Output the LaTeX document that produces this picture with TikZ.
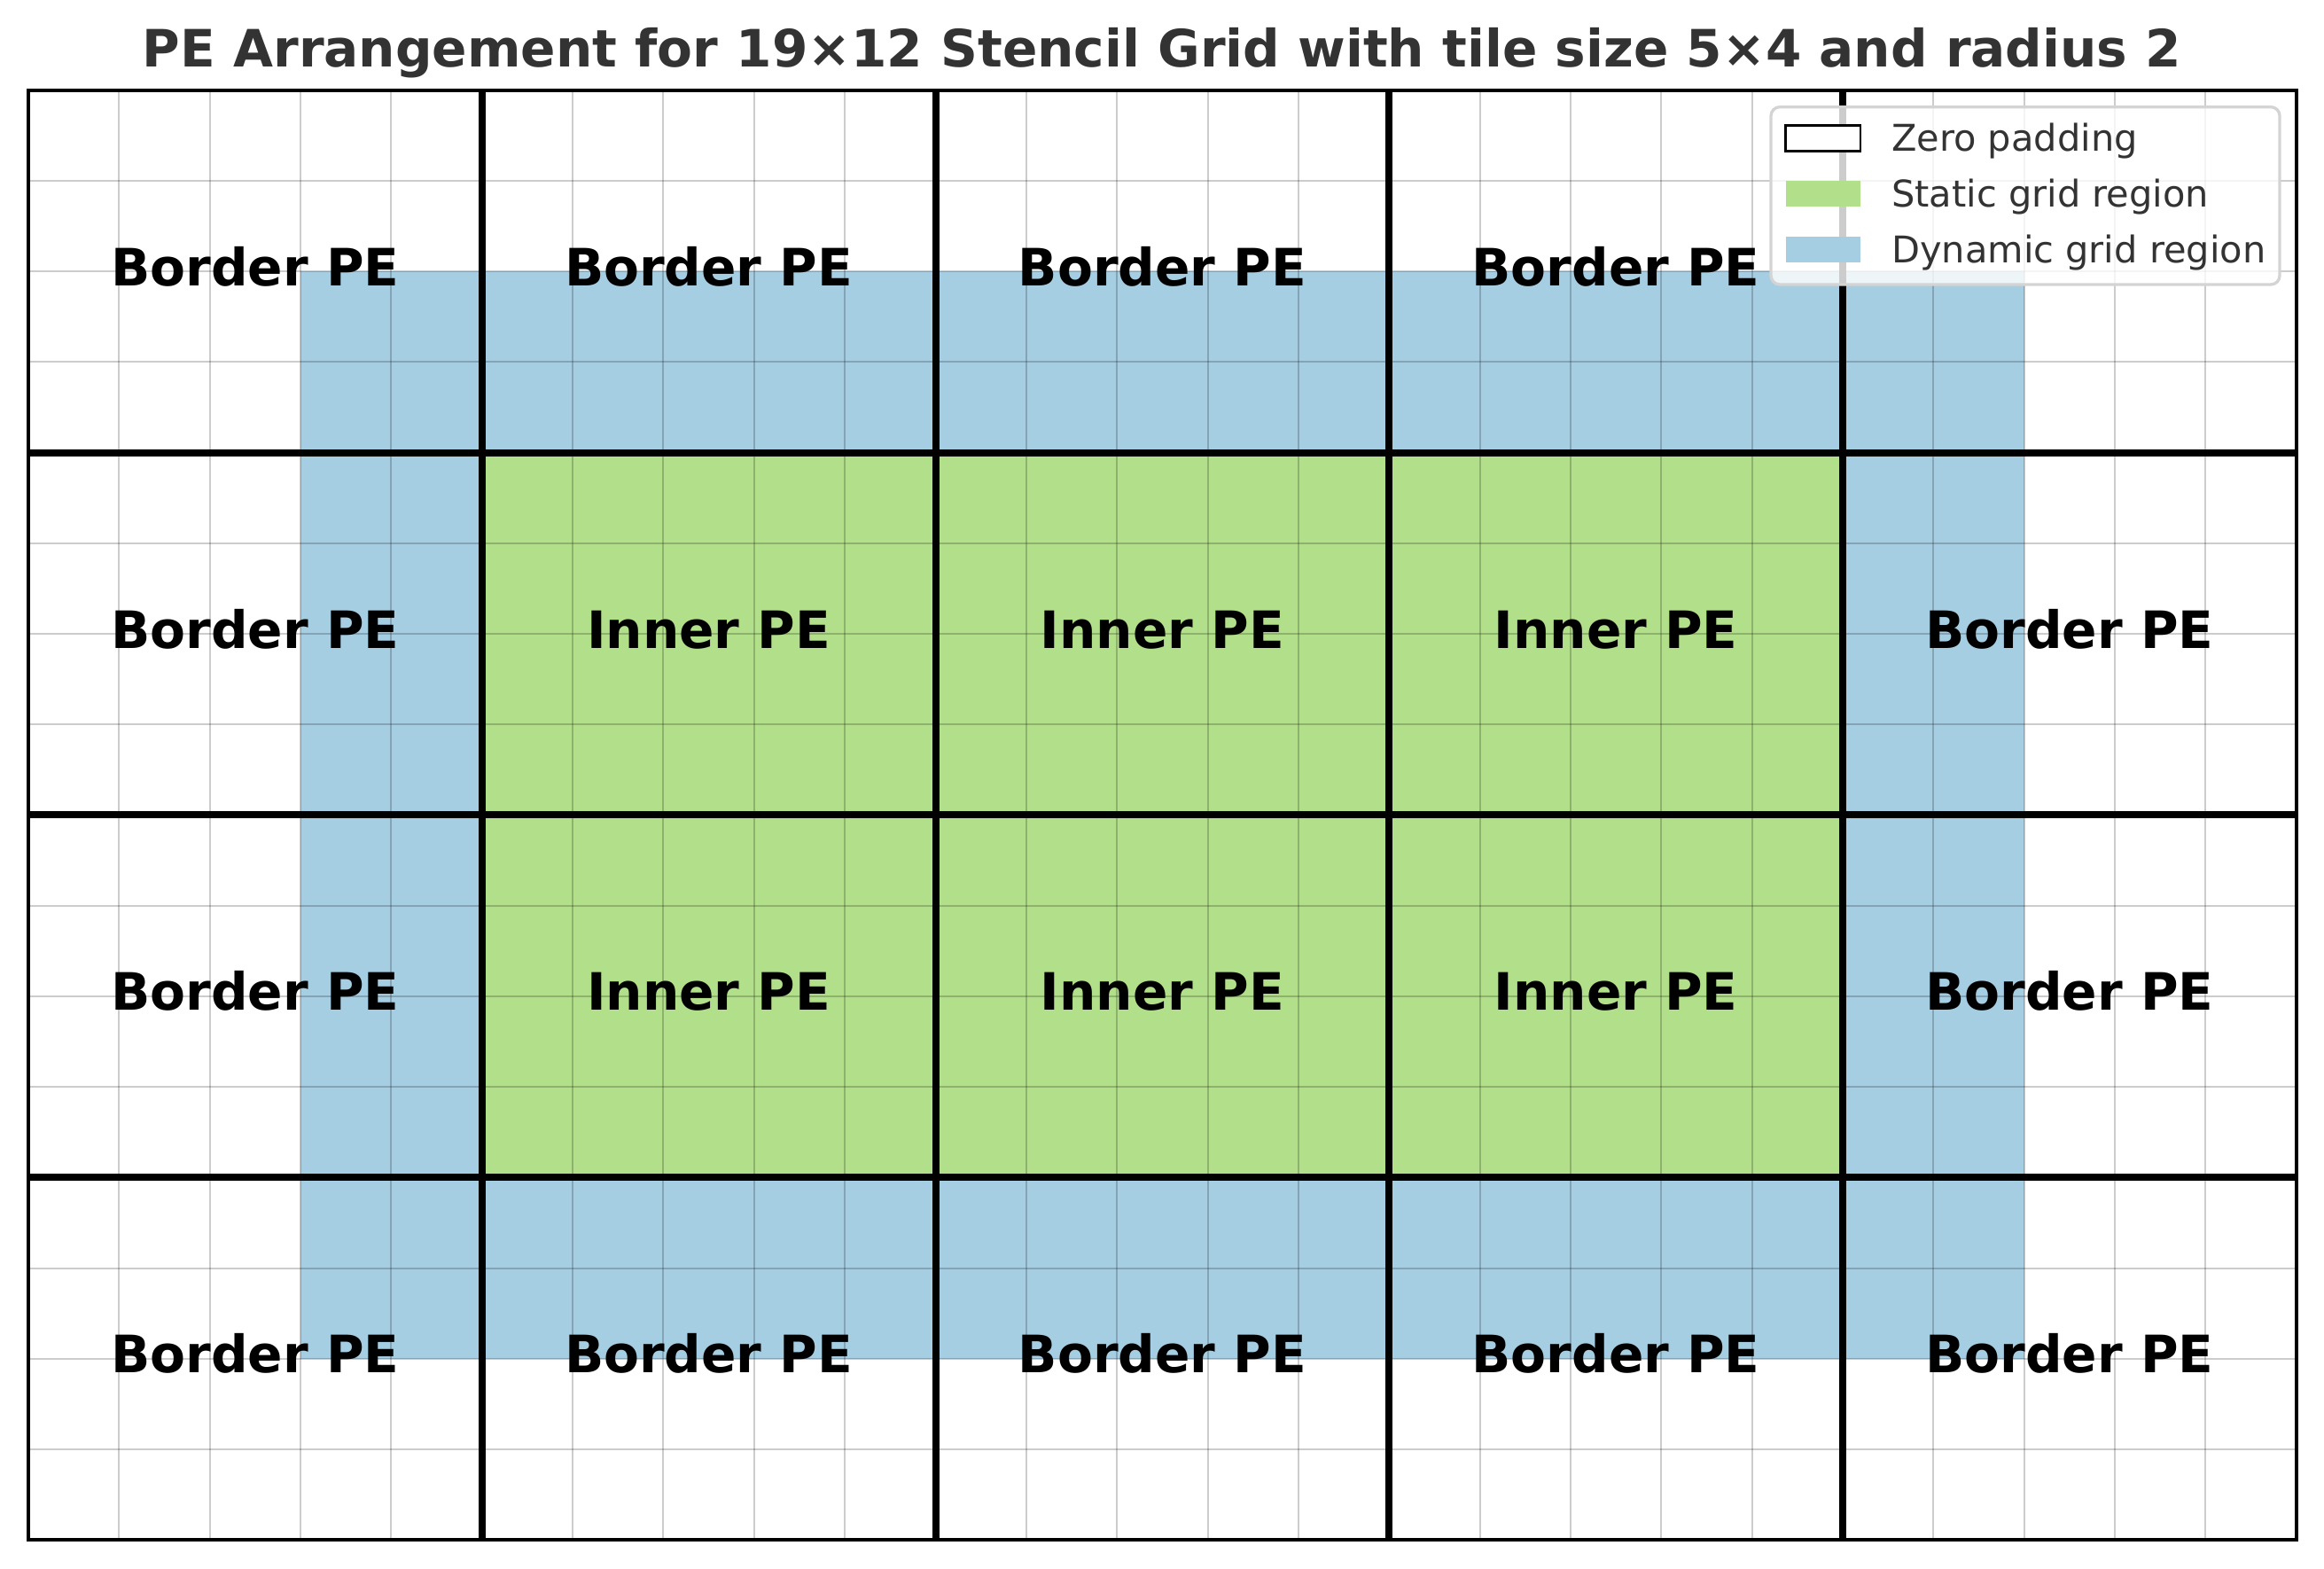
\documentclass[tikz,border=0pt]{standalone}
\usepackage{fontspec}
\setmainfont{DejaVu Sans}
\definecolor{dynblue}{HTML}{A6CEE3}
\definecolor{statgreen}{HTML}{B2DF8A}
\definecolor{titlegray}{HTML}{333333}
\definecolor{legframe}{HTML}{D4D4D4}
\begin{document}
\begin{tikzpicture}[x={(24.656pt,0)}, y={(0,-24.625pt)},
  minorgrid/.style={line width=0.5pt, draw=black, draw opacity=0.2},
  tileline/.style={line width=1.93pt, draw=black},
  frameline/.style={line width=0.96pt, draw=black},
  pelabel/.style={font=\fontsize{14}{16}\selectfont\bfseries, text=black, anchor=base, inner sep=0pt},
  legtext/.style={font=\fontsize{10}{12}\selectfont, text=titlegray, anchor=base west, inner sep=0pt},
  titletext/.style={font=\fontsize{14}{17}\selectfont\bfseries, text=titlegray, anchor=base, inner sep=0pt}]
\useasboundingbox (-0.31265,-0.99491) rectangle (25.3053,16.3207);
\fill[white] (-0.31265,-0.99491) rectangle (25.3053,16.3207);
% regions
\fill[dynblue] (3,2) rectangle (22,14);
\fill[statgreen] (5,4) rectangle (20,12);
% fine grid
\foreach \i in {1,...,24} \draw[minorgrid] (\i,0) -- (\i,16);
\foreach \j in {1,...,15} \draw[minorgrid] (0,\j) -- (25,\j);
% tile lines
\foreach \i in {5,10,15,20} \draw[tileline] (\i,0) -- (\i,16);
\foreach \j in {4,8,12} \draw[tileline] (0,\j) -- (25,\j);
\draw[frameline] (0,0) rectangle (25,16);
% labels row 0
\node[pelabel] (b00) at (2.5,2.157) {Border PE};
\node[pelabel] (b01) at (7.5,2.157) {Border PE};
\node[pelabel] (b02) at (12.5,2.157) {Border PE};
\node[pelabel] (b03) at (17.5,2.157) {Border PE};
% row 1
\node[pelabel] (b10) at (2.5,6.157) {Border PE};
\node[pelabel] (i11) at (7.5,6.157) {Inner PE};
\node[pelabel] (i12) at (12.5,6.157) {Inner PE};
\node[pelabel] (i13) at (17.5,6.157) {Inner PE};
\node[pelabel] (b14) at (22.5,6.157) {Border PE};
% row 2
\node[pelabel] (b20) at (2.5,10.157) {Border PE};
\node[pelabel] (i21) at (7.5,10.157) {Inner PE};
\node[pelabel] (i22) at (12.5,10.157) {Inner PE};
\node[pelabel] (i23) at (17.5,10.157) {Inner PE};
\node[pelabel] (b24) at (22.5,10.157) {Border PE};
% row 3
\node[pelabel] (b30) at (2.5,14.157) {Border PE};
\node[pelabel] (b31) at (7.5,14.157) {Border PE};
\node[pelabel] (b32) at (12.5,14.157) {Border PE};
\node[pelabel] (b33) at (17.5,14.157) {Border PE};
\node[pelabel] (b34) at (22.5,14.157) {Border PE};
% legend
\draw[legframe, line width=0.8pt, fill=white, fill opacity=0.8, rounded corners=2.4pt] (19.209,0.186) rectangle (24.817,2.145);
\draw[black, line width=0.7pt, fill=white] (19.370,0.388) rectangle (20.195,0.674);
\fill[statgreen] (19.370,0.998) rectangle (20.195,1.284);
\fill[dynblue] (19.370,1.616) rectangle (20.195,1.902);
\node[legtext] (l1) at (20.532,0.678) {Zero padding};
\node[legtext] (l2) at (20.532,1.287) {Static grid region};
\node[legtext] (l3) at (20.532,1.906) {Dynamic grid region};
% title
\node[titletext] (title) at (12.496,-0.261) {PE Arrangement for 19×12 Stencil Grid with tile size 5×4 and radius 2};
\end{tikzpicture}
\end{document}
